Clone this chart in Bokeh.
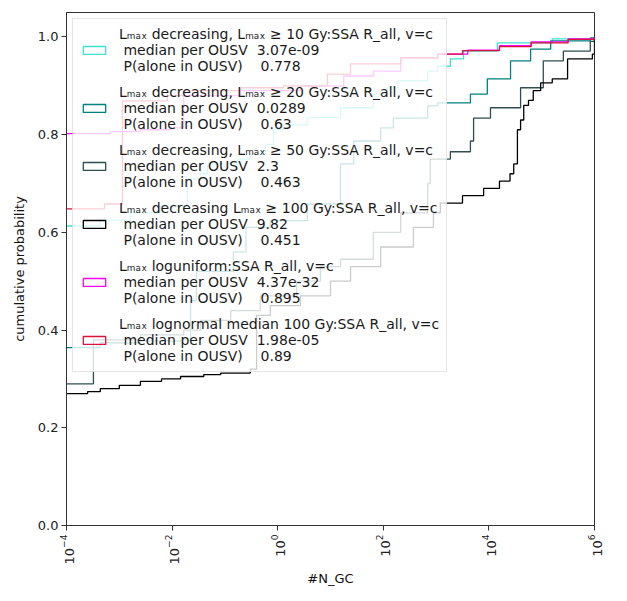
import numpy as np
from bokeh.plotting import figure
from bokeh.models import Legend, LegendItem, FixedTicker, Range1d
from bokeh.embed import file_html
from bokeh.resources import INLINE

# ---- data (x as log10 of #N_GC, y = cumulative probability) ----
lg_l10 = [-4.0, -3.36, -2.79, -2.22, -1.71, -1.46, -1.33, -0.76, -0.52, -0.23, -0.08, 0.11, 0.56,
          1.19, 1.81, 2.08, 2.27, 2.84, 3.03, 3.27, 3.52, 4.16, 5.2, 6.0]
cdf_l10 = [0.613, 0.625, 0.64, 0.655, 0.71, 0.72, 0.74, 0.75, 0.76, 0.78, 0.81, 0.82, 0.835,
           0.855, 0.883, 0.896, 0.91, 0.93, 0.94, 0.955, 0.971, 0.988, 0.996, 1.0]

lg_l20 = [-4.0, -3.36, -2.6, -1.78, -1.65, -1.54, -0.84, -0.6, -0.14, 0.56, 1.19, 1.44, 1.95,
          2.19, 2.84, 3.03, 3.65, 3.97, 4.41, 4.79, 5.17, 5.92, 6.0]
cdf_l20 = [0.364, 0.374, 0.378, 0.382, 0.46, 0.52, 0.56, 0.61, 0.624, 0.658, 0.74, 0.787, 0.814,
           0.834, 0.859, 0.865, 0.883, 0.914, 0.951, 0.975, 0.992, 0.998, 1.0]

lg_l50 = [-4.0, -3.49, -2.6, -1.78, -1.46, -0.89, -0.33, 0.36, 0.81, 1.19, 1.81, 2.33, 2.84,
          2.89, 3.27, 3.65, 3.71, 4.03, 4.6, 5.03, 5.41, 5.92, 6.0]
cdf_l50 = [0.29, 0.38, 0.39, 0.40, 0.42, 0.44, 0.47, 0.50, 0.53, 0.545, 0.60, 0.64, 0.70,
           0.75, 0.765, 0.787, 0.834, 0.855, 0.896, 0.951, 0.971, 0.991, 1.0]

lg_l100 = [-4.0, -3.6, -3.36, -3.0, -2.6, -2.2, -1.84, -1.4, -1.08, -0.52, -0.4, -0.14, 0.43, 1.0, 1.38,
           1.95, 2.57, 2.95, 3.08, 3.5, 3.9, 4.2, 4.4, 4.47, 4.54, 4.6, 4.66, 4.75, 4.84, 4.98, 5.2,
           5.49, 5.96, 6.0]
cdf_l100 = [0.27, 0.274, 0.28, 0.287, 0.295, 0.30, 0.305, 0.309, 0.312, 0.32, 0.43, 0.45, 0.47, 0.50,
            0.53, 0.57, 0.61, 0.64, 0.66, 0.675, 0.69, 0.705, 0.72, 0.74, 0.81, 0.83, 0.86, 0.87,
            0.89, 0.906, 0.914, 0.955, 0.965, 1.0]

lg_logu = [-4.0, -3.17, -2.6, -2.03, -1.78, -0.70, 0.43, 1.25, 1.81, 2.33, 3.03, 3.6, 4.2, 4.8, 5.5, 6.0]
cdf_logu = [0.802, 0.806, 0.81, 0.814, 0.88, 0.89, 0.90, 0.92, 0.93, 0.957, 0.965, 0.973, 0.982, 0.99, 0.996, 1.0]

lg_logn = [-4.0, -3.28, -2.94, -2.09, -1.78, -0.70, 0.11, 0.94, 1.38, 2.33, 3.03, 3.5, 4.2, 4.8, 5.5, 6.0]
cdf_logn = [0.648, 0.658, 0.869, 0.88, 0.89, 0.896, 0.90, 0.924, 0.945, 0.957, 0.965, 0.972, 0.98, 0.988, 0.995, 1.0]

series_colors = ["#40E0D0", "#008080", "#2F4F4F", "#000000", "#FF00FF", "#DC143C"]
series_labels = [
    "Lₘₐₓ decreasing, Lₘₐₓ ≥ 10 Gy:SSA R_all, v=c\n median per OUSV  3.07e-09\n P(alone in OUSV)    0.778",
    "Lₘₐₓ decreasing, Lₘₐₓ ≥ 20 Gy:SSA R_all, v=c\n median per OUSV  0.0289\n P(alone in OUSV)    0.63",
    "Lₘₐₓ decreasing, Lₘₐₓ ≥ 50 Gy:SSA R_all, v=c\n median per OUSV  2.3\n P(alone in OUSV)    0.463",
    "Lₘₐₓ decreasing Lₘₐₓ ≥ 100 Gy:SSA R_all, v=c\n median per OUSV  9.82\n P(alone in OUSV)    0.451",
    "Lₘₐₓ loguniform:SSA R_all, v=c\n median per OUSV  4.37e-32\n P(alone in OUSV)    0.895",
    "Lₘₐₓ lognormal median 100 Gy:SSA R_all, v=c\n median per OUSV  1.98e-05\n P(alone in OUSV)    0.89",
]
series_x = [lg_l10, lg_l20, lg_l50, lg_l100, lg_logu, lg_logn]
series_y = [cdf_l10, cdf_l20, cdf_l50, cdf_l100, cdf_logu, cdf_logn]

y_ticks = [0.0, 0.2, 0.4, 0.6, 0.8, 1.0]
x_ticks = [1e-4, 1e-2, 1e0, 1e2, 1e4, 1e6]

FONT = "DejaVu Sans"

p = figure(x_axis_type="log", x_range=Range1d(1e-4, 1e6), y_range=Range1d(0, 1.05),
           frame_width=528, frame_height=513,
           min_border_left=66, min_border_top=12, min_border_right=12, min_border_bottom=6,
           output_backend="svg", toolbar_location=None)
p.background_fill_color = "white"
p.border_fill_color = "white"
p.outline_line_color = "#333333"
p.outline_line_width = 1
p.xgrid.visible = False
p.ygrid.visible = False

items = []
for xs, ys, col, lab in zip(series_x, series_y, series_colors, series_labels):
    xv = [10.0 ** v for v in xs]
    p.step(xv, ys, mode="after", line_color=col, line_width=1.3)
    # legend-only patch handle (no visible area in the data space)
    proxy = p.quad(left=[np.nan], right=[np.nan], top=[np.nan], bottom=[np.nan],
                   fill_color="white", fill_alpha=0, line_color=col, line_width=1.3)
    items.append(LegendItem(label=lab, renderers=[proxy]))

legend = Legend(items=items, location="top_left")
legend.label_text_font = FONT
legend.label_text_font_size = "14px"
legend.label_text_line_height = 1.2
legend.label_text_color = "#1a1a1a"
legend.glyph_width = 28
legend.glyph_height = 10
legend.label_standoff = 11
legend.padding = 7
legend.spacing = 10
legend.margin = 6
legend.background_fill_alpha = 0.8
legend.border_line_color = "#cccccc"
legend.border_line_width = 1
p.add_layout(legend)

for ax in (p.xaxis[0], p.yaxis[0]):
    ax.axis_line_color = "#333333"
    ax.major_tick_line_color = "#333333"
    ax.major_tick_out = 5
    ax.major_tick_in = 0
    ax.minor_tick_line_color = None
    ax.major_label_text_font = FONT
    ax.major_label_text_font_size = "13px"
    ax.major_label_text_color = "#222222"
    ax.axis_label_text_font = FONT
    ax.axis_label_text_font_size = "13px"
    ax.axis_label_text_font_style = "normal"
    ax.axis_label_text_color = "#111111"

p.yaxis.ticker = FixedTicker(ticks=y_ticks)
p.yaxis.major_label_overrides = {t: f"{t:.1f}" for t in y_ticks}
p.yaxis.major_label_standoff = 3
p.yaxis.axis_label = "cumulative probability"
p.yaxis.axis_label_standoff = 8

p.xaxis.ticker = FixedTicker(ticks=x_ticks)
p.xaxis.major_label_orientation = np.pi / 2
p.xaxis.major_label_standoff = 4
p.xaxis.axis_label = "#N_GC"
p.xaxis.axis_label_standoff = 4

open("out.html", "w").write(file_html(p, INLINE))
